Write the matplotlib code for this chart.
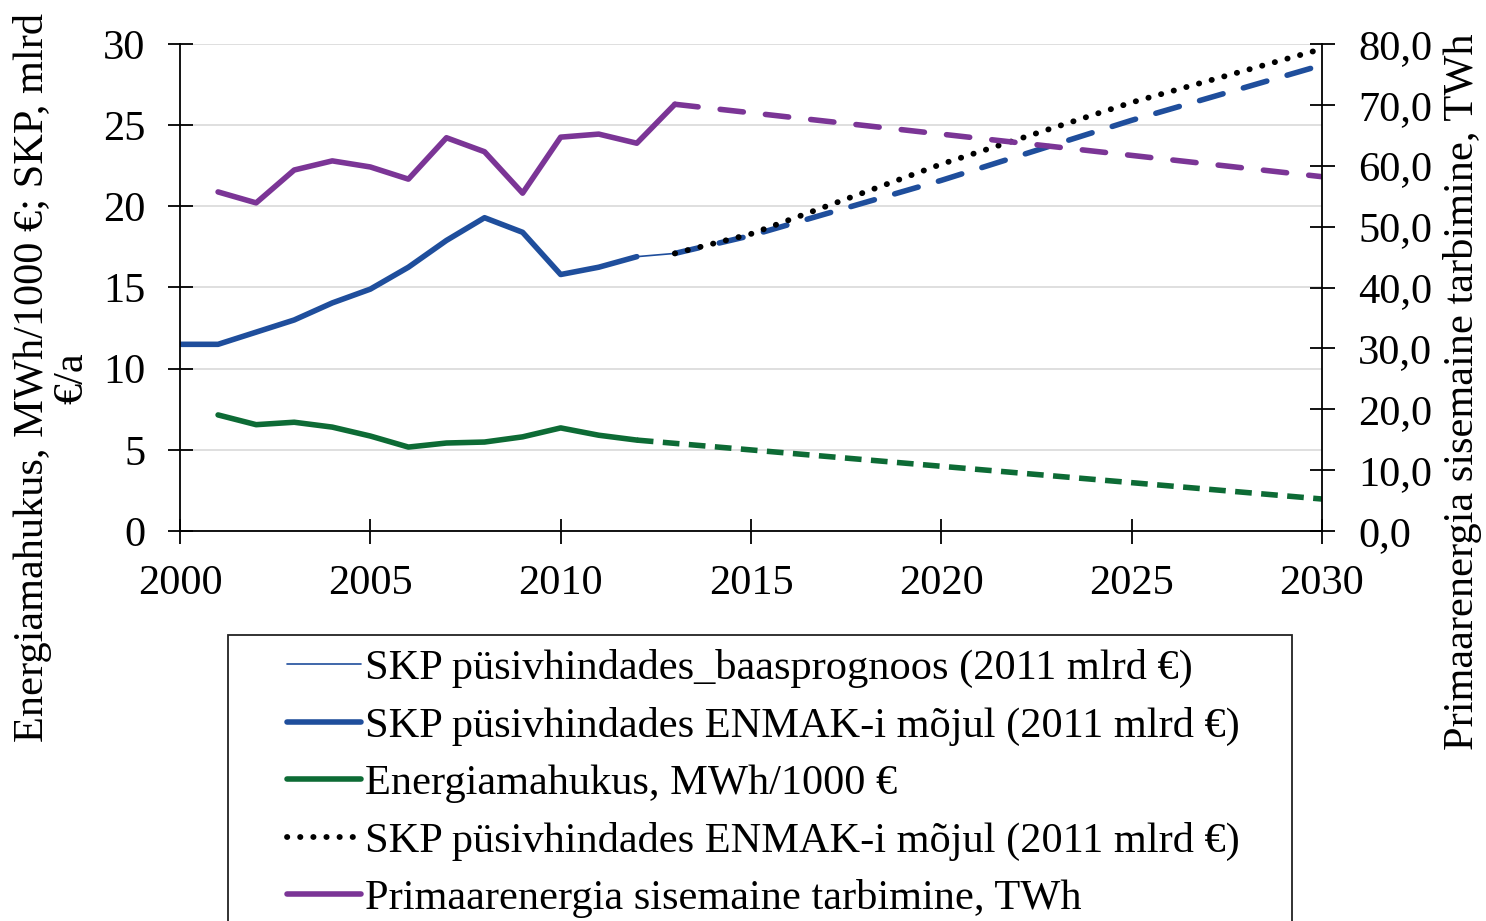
import numpy as np
import matplotlib
matplotlib.use("Agg")
import matplotlib.pyplot as plt
from matplotlib.patches import Rectangle

plt.rcParams['font.family'] = ['Liberation Serif', 'DejaVu Serif']

# --- data ---
years_gdp = [2000, 2001, 2002, 2003, 2004, 2005, 2006, 2007, 2008, 2009, 2010, 2011, 2012]
gdp = [11.5, 11.5, 12.25, 13.0, 14.05, 14.9, 16.25, 17.9, 19.3, 18.4, 15.8, 16.25, 16.9]

years_base = [2012, 2013]
gdp_base = [16.9, 17.1]

years_fc = [2013, 2015, 2020, 2025, 2030]
gdp_enmak_dash = [17.1, 18.2, 21.6, 25.3, 28.7]
gdp_enmak_dot = [17.1, 18.3, 22.6, 26.4, 29.7]

years_hist = [2001, 2002, 2003, 2004, 2005, 2006, 2007, 2008, 2009, 2010, 2011, 2012]
intensity = [7.15, 6.55, 6.7, 6.4, 5.85, 5.17, 5.42, 5.48, 5.8, 6.35, 5.9, 5.6]
years_int_fc = [2012, 2030]
intensity_fc = [5.6, 1.97]

years_pe = [2001, 2002, 2003, 2004, 2005, 2006, 2007, 2008, 2009, 2010, 2011, 2012, 2013]
primary = [55.7, 53.9, 59.3, 60.8, 59.8, 57.8, 64.6, 62.3, 55.5, 64.7, 65.2, 63.7, 70.1]
years_pe_fc = [2013, 2030]
primary_fc = [70.1, 58.2]

labels = [
    "SKP püsivhindades_baasprognoos (2011 mlrd €)",
    "SKP püsivhindades ENMAK-i mõjul (2011 mlrd €)",
    "Energiamahukus, MWh/1000 €",
    "SKP püsivhindades ENMAK-i mõjul (2011 mlrd €)",
    "Primaarenergia sisemaine tarbimine, TWh",
]

BLUE = '#1f4e9c'
GREEN = '#0d6b35'
PURPLE = '#7b3596'
FS = 30.5
LW = 4.0

fig = plt.figure(figsize=(14.86, 9.21), dpi=100)
ax = fig.add_axes([180/1486, 1-531/921, (1322-180)/1486, (531-44)/921])
ax2 = ax.twinx()

# left axis series
l_base, = ax.plot(years_base, gdp_base, color=BLUE, lw=1.2, solid_capstyle='round')
l_gdp, = ax.plot(years_gdp, gdp, color=BLUE, lw=LW, solid_capstyle='round',
                 solid_joinstyle='round')
ax.plot(years_fc, gdp_enmak_dash, color=BLUE, lw=LW, linestyle=(0, (4.4, 3.8)),
        dash_capstyle='round')
l_dot, = ax.plot(years_fc, gdp_enmak_dot, color='black', lw=4.2,
                 linestyle=(0, (0.05, 2.2)), dash_capstyle='round')
l_int, = ax.plot(years_hist, intensity, color=GREEN, lw=LW, solid_capstyle='round',
                 solid_joinstyle='round')
ax.plot(years_int_fc, intensity_fc, color=GREEN, lw=LW, linestyle=(0, (3.0, 1.7)))

# right axis series
l_pe, = ax2.plot(years_pe, primary, color=PURPLE, lw=LW, solid_capstyle='round',
                 solid_joinstyle='round')
ax2.plot(years_pe_fc, primary_fc, color=PURPLE, lw=LW, linestyle=(0, (4.2, 4.0)),
         dash_capstyle='round')

ax.set_xlim(2000, 2030)
ax.set_ylim(0, 30)
ax2.set_ylim(0, 80)
ax.set_xticks(range(2000, 2031, 5))
ax.set_yticks(range(0, 31, 5))
ax2.set_yticks(range(0, 81, 10))
ax2.set_yticklabels([f"{v},0" for v in range(0, 81, 10)])

ax.grid(axis='y', color='#d9d9d9', lw=1.2)
ax.set_axisbelow(True)
for a in (ax, ax2):
    a.spines['top'].set_visible(False)
    for s in ('left', 'right', 'bottom'):
        a.spines[s].set_linewidth(1.3)
ax2.spines['left'].set_visible(False)
ax2.spines['bottom'].set_visible(False)
ax.spines['right'].set_visible(False)

ax.tick_params(axis='both', direction='inout', length=18, width=1.3, labelsize=FS)
ax.tick_params(axis='y', pad=16)
ax.tick_params(axis='x', pad=15)
ax2.tick_params(axis='y', direction='inout', length=18, width=1.3, labelsize=FS, pad=17)

fig.text(52/1486, 1-378/921, "Energiamahukus, MWh/1000 €; SKP, mlrd\n€/a",
         rotation=90, ha='center', va='center', multialignment='center',
         fontsize=FS, linespacing=1.05)
fig.text(1463/1486, 1-392/921, "Primaarenergia sisemaine tarbimine, TWh",
         rotation=90, ha='center', va='center', fontsize=FS)

handles = [l_base, l_gdp, l_int, l_dot, l_pe]
fig.legend(handles, labels, loc='upper left', bbox_to_anchor=(287/1486, 1-649/921),
           frameon=False, fontsize=FS, borderpad=0, borderaxespad=0,
           handlelength=1.75, handletextpad=0.1, labelspacing=0.44)
fig.patches.append(Rectangle((228/1486, -0.05), (1292-228)/1486, 1-635/921+0.05,
                             transform=fig.transFigure, fill=False,
                             edgecolor='#222222', lw=1.3))

fig.savefig("out.png", dpi=100)
